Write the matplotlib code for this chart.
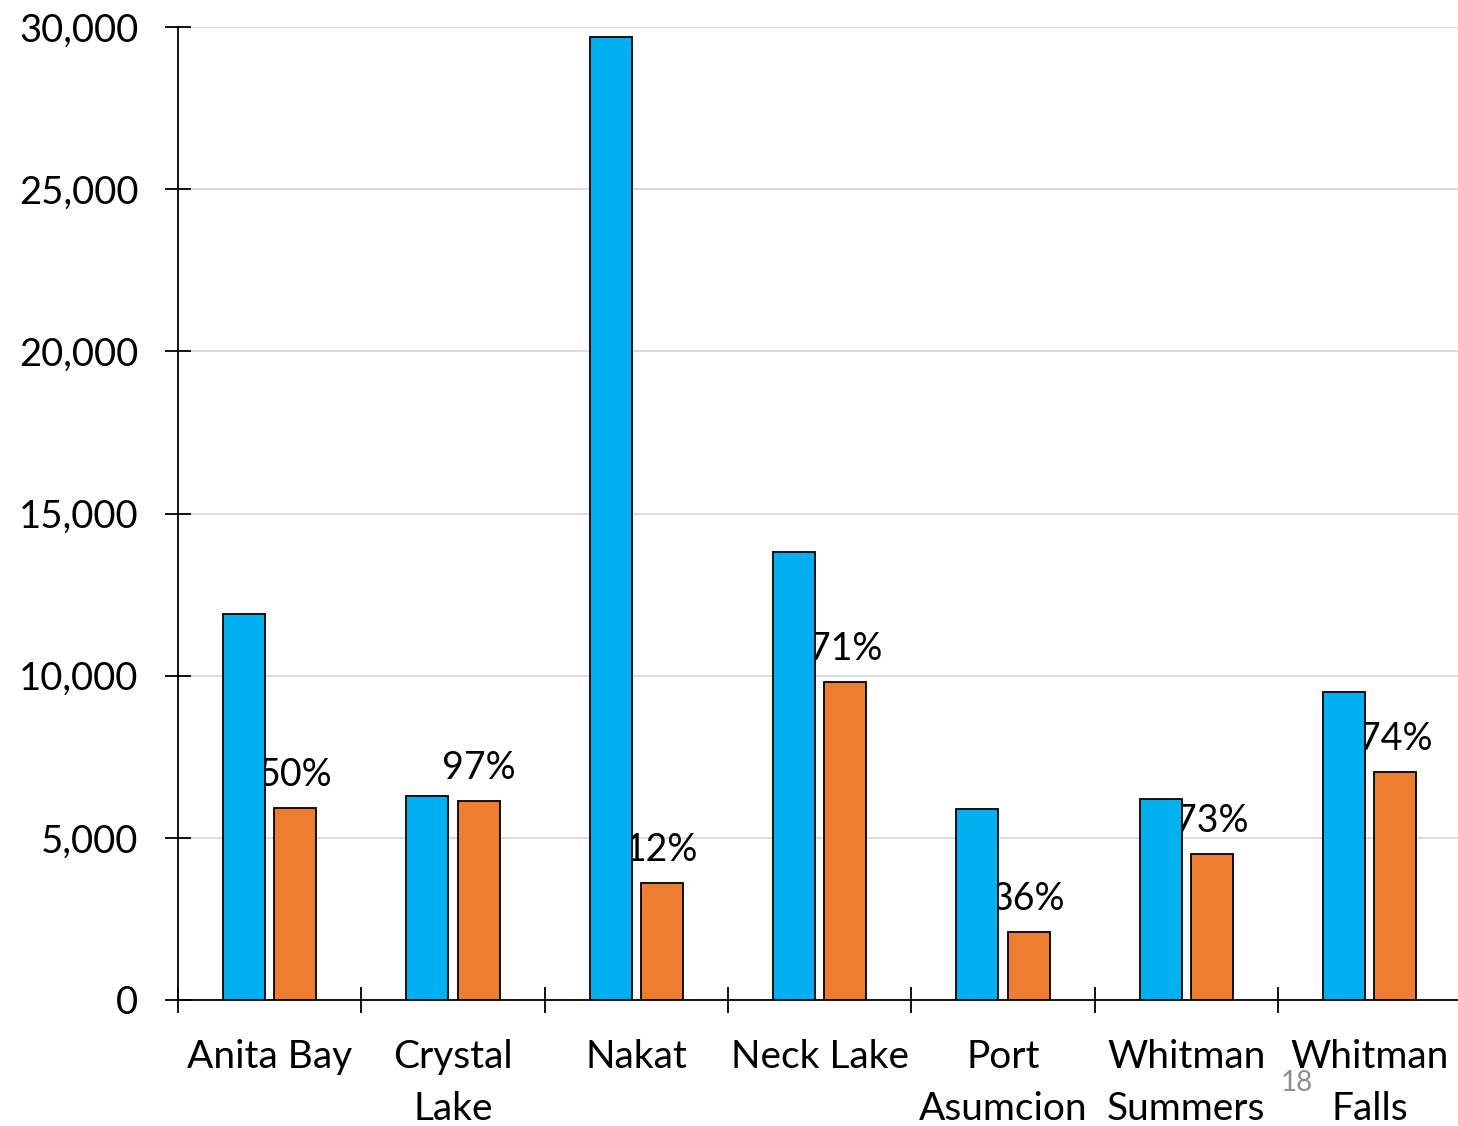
import matplotlib
matplotlib.use("Agg")
import matplotlib.pyplot as plt
import numpy as np

plt.rcParams['font.family'] = ['Lato', 'DejaVu Sans']

sites = ["Anita Bay", "Crystal\nLake", "Nakat", "Neck Lake", "Port\nAsumcion",
         "Whitman\nSummers", "Whitman\nFalls"]
blue_vals = [11900, 6290, 29700, 13800, 5890, 6200, 9500]
orange_vals = [5920, 6140, 3610, 9810, 2100, 4500, 7030]
pct_labels = ["50%", "97%", "12%", "71%", "36%", "73%", "74%"]
yticks = [0, 5000, 10000, 15000, 20000, 25000, 30000]

fig = plt.figure(figsize=(14.58, 11.26), dpi=100)
ax = fig.add_axes([178/1458, 126/1126, 1283.3/1458, 973/1126])

x = np.arange(len(sites)) + 0.5
w = 0.23
ax.bar(x - 0.14, blue_vals, w, color="#00B0F0", edgecolor="black", linewidth=1.3, zorder=3)
ax.bar(x + 0.14, orange_vals, w, color="#ED7D31", edgecolor="black", linewidth=1.3, zorder=3)

for xi, v, lab in zip(x + 0.14, orange_vals, pct_labels):
    ax.annotate(lab, (xi, v), xytext=(0, 11), textcoords="offset points",
                ha="center", va="bottom", fontsize=27, zorder=2)

ax.set_xlim(0, 7)
ax.set_ylim(0, 30000)
ax.set_yticks(yticks)
ax.set_yticklabels([f"{t:,}" for t in yticks])
ax.set_xticks(np.arange(0, 8))
ax.set_xticklabels([])
ax.set_xticks(x, minor=True)
ax.set_xticklabels(sites, minor=True, fontsize=28, linespacing=1.55)
ax.tick_params(axis="x", which="minor", length=0, pad=28)
ax.tick_params(axis="x", which="major", direction="inout", length=19, width=1.3)
ax.tick_params(axis="y", direction="inout", length=19, width=1.3, labelsize=27.5, pad=19)

ax.grid(axis="y", color="#d9d9d9", linewidth=1.3, zorder=0)
for s in ["top", "right"]:
    ax.spines[s].set_visible(False)
ax.spines["left"].set_linewidth(1.3)
ax.spines["bottom"].set_linewidth(1.3)

# slide number
fig.text(1297/1458, 1 - 1083/1126, "18", fontsize=20, color="#8c8c8c",
         ha="center", va="center")

fig.savefig("out.png", dpi=100)
